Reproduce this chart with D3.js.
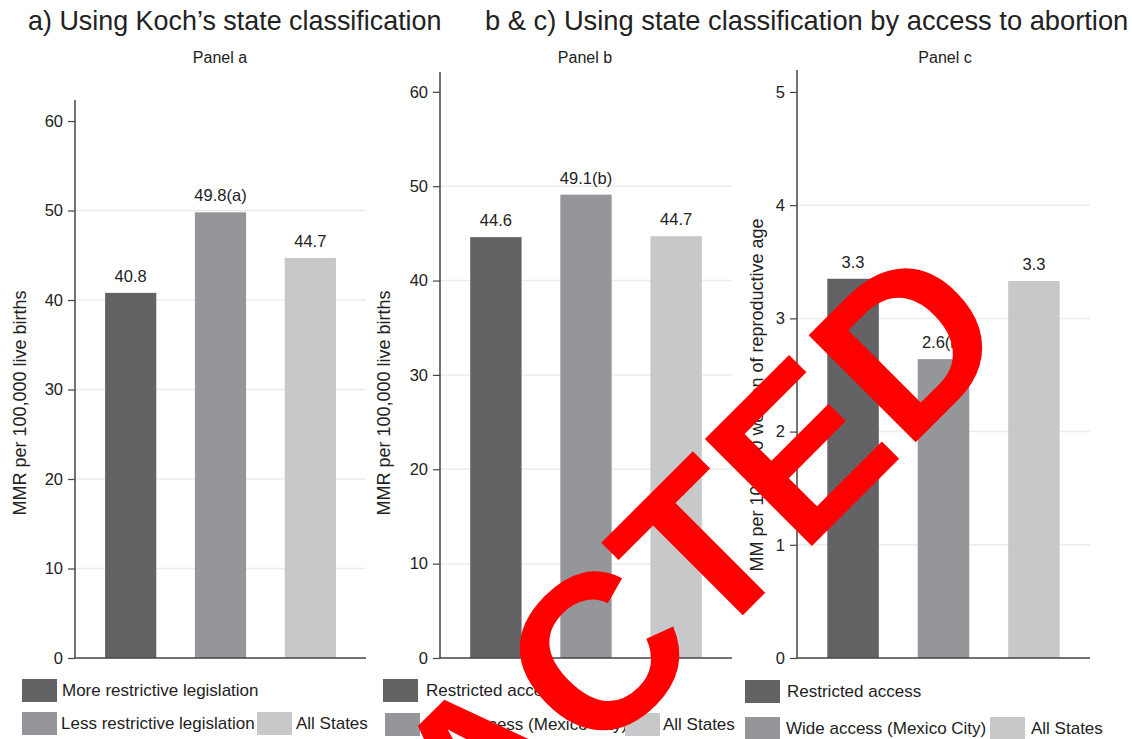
<!DOCTYPE html>
<html>
<head>
<meta charset="utf-8">
<script src="https://cdn.jsdelivr.net/npm/d3@7"></script>
<style>
  body { margin: 0; background: #ffffff; }
  svg { display: block; font-family: "Liberation Sans", Arial, Helvetica, sans-serif; }
</style>
</head>
<body>
<svg id="chart" width="1132" height="739"></svg>
<script>
// data
const panelACats = ["More restrictive legislation", "Less restrictive legislation", "All States"];
const panelAValues = [40.8, 49.8, 44.7];
const panelALabels = ["40.8", "49.8(a)", "44.7"];
const panelATicks = [0, 10, 20, 30, 40, 50, 60];

const panelBCats = ["Restricted access", "Wide access (Mexico City)", "All States"];
const panelBValues = [44.6, 49.1, 44.7];
const panelBLabels = ["44.6", "49.1(b)", "44.7"];
const panelBTicks = [0, 10, 20, 30, 40, 50, 60];

const panelCCats = ["Restricted access", "Wide access (Mexico City)", "All States"];
const panelCValues = [3.35, 2.64, 3.33];
const panelCLabels = ["3.3", "2.6(b)", "3.3"];
const panelCTicks = [0, 1, 2, 3, 4, 5];

const barColors = ["#636366", "#959699", "#c7c8ca"];

const svg = d3.select("#chart");
svg.append("rect").attr("width", 1132).attr("height", 739).attr("fill", "#fff");

// section titles
svg.append("text").attr("x", 28).attr("y", 30)
  .attr("font-size", 26.9).attr("fill", "#222")
  .text("a) Using Koch\u2019s state classification");
svg.append("text").attr("x", 485).attr("y", 30)
  .attr("font-size", 27.3).attr("fill", "#222")
  .text("b & c) Using state classification by access to abortion");

function drawPanel(p) {
  const g = svg.append("g");

  const x = d3.scaleBand()
    .domain(p.cats)
    .range([p.left, p.right])
    .paddingInner(0.43)
    .paddingOuter(0.335);
  const y = d3.scaleLinear().domain([0, p.yMax]).range([658, p.top]);

  // panel title
  g.append("text")
    .attr("x", p.titleX).attr("y", 63)
    .attr("text-anchor", "middle")
    .attr("font-size", 16).attr("fill", "#222")
    .text(p.title);

  // grid lines
  g.append("g").selectAll("line")
    .data(p.ticks.slice(1, -1))
    .join("line")
    .attr("x1", p.left).attr("x2", p.right)
    .attr("y1", (d) => y(d)).attr("y2", (d) => y(d))
    .attr("stroke", "#ececec").attr("stroke-width", 1.5);

  // bars
  g.append("g").selectAll("rect")
    .data(p.values)
    .join("rect")
    .attr("x", (d, i) => x(p.cats[i]))
    .attr("y", (d) => y(d))
    .attr("width", x.bandwidth())
    .attr("height", (d) => y(0) - y(d))
    .attr("fill", (d, i) => barColors[i]);

  // value labels
  g.append("g").selectAll("text")
    .data(p.values)
    .join("text")
    .attr("x", (d, i) => x(p.cats[i]) + x.bandwidth() / 2)
    .attr("y", (d) => y(d) - 11)
    .attr("text-anchor", "middle")
    .attr("font-size", 16.5).attr("fill", "#222")
    .text((d, i) => p.labels[i]);

  // y axis
  const yAxis = g.append("g")
    .attr("transform", `translate(${p.left},0)`)
    .call(d3.axisLeft(y).tickValues(p.ticks).tickSize(7).tickPadding(5).tickFormat(d3.format("d")));
  yAxis.select(".domain").attr("stroke", "#444").attr("stroke-width", 1.5)
    .attr("d", `M0,${y(0)}V${p.top}`);
  yAxis.selectAll(".tick line").attr("stroke", "#444").attr("stroke-width", 1.2);
  yAxis.selectAll(".tick text")
    .attr("font-size", 16.5).attr("fill", "#222")
    .attr("font-family", "Liberation Sans, Arial, sans-serif");

  // x axis line
  g.append("line")
    .attr("x1", p.left).attr("x2", p.right)
    .attr("y1", y(0)).attr("y2", y(0))
    .attr("stroke", "#444").attr("stroke-width", 1.5);

  // y label
  g.append("text")
    .attr("transform", `translate(${p.labelX},${p.labelY}) rotate(-90)`)
    .attr("text-anchor", "middle")
    .attr("font-size", 18).attr("fill", "#222")
    .text(p.yLabel);

  // legend
  p.legend.forEach((item) => {
    g.append("rect")
      .attr("x", item.x).attr("y", item.y)
      .attr("width", 35).attr("height", 23)
      .attr("fill", barColors[item.i]);
    g.append("text")
      .attr("x", item.x + item.tx).attr("y", item.y + 17)
      .attr("font-size", 17).attr("fill", "#222")
      .text(p.cats[item.i]);
  });
}

drawPanel({
  title: "Panel a", titleX: 220,
  cats: panelACats, values: panelAValues, labels: panelALabels, ticks: panelATicks,
  yMax: 62.35, top: 100, left: 75, right: 366,
  yLabel: "MMR per 100,000 live births", labelX: 26, labelY: 403,
  legend: [
    { i: 0, x: 22, y: 679, tx: 40 },
    { i: 1, x: 22, y: 712, tx: 39 },
    { i: 2, x: 257, y: 712, tx: 39 }
  ]
});

drawPanel({
  title: "Panel b", titleX: 585,
  cats: panelBCats, values: panelBValues, labels: panelBLabels, ticks: panelBTicks,
  yMax: 62.1, top: 72, left: 440, right: 732,
  yLabel: "MMR per 100,000 live births", labelX: 390, labelY: 403,
  legend: [
    { i: 0, x: 383, y: 679, tx: 43 },
    { i: 1, x: 385, y: 713, tx: 42 },
    { i: 2, x: 625, y: 713, tx: 38 }
  ]
});

drawPanel({
  title: "Panel c", titleX: 945,
  cats: panelCCats, values: panelCValues, labels: panelCLabels, ticks: panelCTicks,
  yMax: 5.194, top: 70, left: 797, right: 1090,
  yLabel: "MM per 100,000 women of reproductive age", labelX: 763, labelY: 395,
  legend: [
    { i: 0, x: 745, y: 680, tx: 42 },
    { i: 1, x: 745, y: 717, tx: 41 },
    { i: 2, x: 990, y: 717, tx: 41 }
  ]
});

// red stamp drawn over the chart, anchored on the centre of its "T"
const stampSize = 220;
svg.append("g")
  .attr("transform", "translate(754,604) rotate(-45)")
  .append("text")
  .attr("x", -3.8605 * stampSize)
  .attr("y", 0)
  .attr("font-size", stampSize)
  .attr("font-weight", "bold")
  .attr("fill", "#ff0000")
  .text("REDACTED");
</script>
</body>
</html>
